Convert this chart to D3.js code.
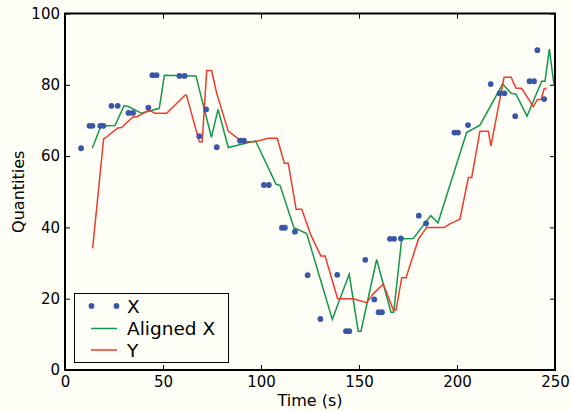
<!DOCTYPE html>
<html><head><meta charset="utf-8">
<script src="https://cdn.jsdelivr.net/npm/d3@7"></script>
<style>
html,body{margin:0;padding:0;background:#fffff7;}
svg{display:block;font-family:"DejaVu Sans",sans-serif;}
</style></head>
<body><svg id="c" width="571" height="411"></svg>
<script>
const xTimes = [8.2, 12.5, 14, 18, 19.6, 23.7, 26.9, 32.4, 34.7, 42.5, 44.6, 46.7, 58.4, 61, 68.5, 72, 77.4, 89.3, 91.3, 101.5, 104, 110.7, 112.2, 117.3, 123.8, 130.3, 138.9, 143.4, 145, 153.2, 157.8, 160, 161.7, 165.8, 167.9, 171.4, 180.5, 184.2, 198.7, 200.5, 205.6, 217.2, 221.7, 224.2, 229.7, 237, 239.3, 241, 244.5];
const xValues = [62.2, 68.5, 68.5, 68.5, 68.5, 74.1, 74.1, 72.1, 72.1, 73.6, 82.7, 82.7, 82.5, 82.5, 65.6, 73.1, 62.5, 64.3, 64.3, 51.9, 51.9, 39.9, 39.9, 38.8, 26.6, 14.3, 26.7, 10.9, 10.9, 30.9, 19.8, 16.2, 16.2, 36.8, 36.8, 36.9, 43.3, 41.1, 66.6, 66.6, 68.7, 80.2, 77.6, 77.6, 71.2, 81, 81, 89.7, 76];

const alignedTimes = [13.9, 18.4, 25.5, 30.1, 32.3, 39.1, 48.1, 50.7, 66.8, 74.7, 78.1, 83.3, 97.2, 107.7, 109.7, 116.8, 123.3, 136.4, 145, 149.6, 151, 159, 166.3, 167.7, 171.8, 177.7, 186.6, 190.3, 204.9, 211.7, 223.3, 227.6, 230.1, 235.7, 243.2, 244.9, 247.1, 249.5];
const alignedValues = [62.2, 68.5, 68.6, 74.1, 73.9, 72, 73.4, 82.7, 82.5, 65.3, 73.1, 62.4, 64.3, 52.1, 51.8, 39.9, 38.3, 14.2, 26.9, 10.9, 10.9, 31, 16.2, 16.2, 36.8, 36.9, 43.3, 41.3, 66.6, 68.7, 80.2, 77.6, 77.4, 71.2, 81, 81, 90, 80];

const yTimes = [14.1, 19.7, 21.5, 26.9, 28.9, 34.5, 36.9, 43, 45.9, 51.9, 61.2, 62, 68.5, 70, 72.3, 74.8, 77.4, 83.3, 89.3, 91, 96.9, 103.7, 108.3, 111.9, 113.9, 117.9, 120.8, 125.4, 130.5, 132.7, 139.1, 147.1, 153.9, 157.5, 162.4, 167.5, 168.9, 171.8, 174, 180.3, 184.5, 193.4, 196.4, 201.5, 205.8, 207.5, 211.7, 216, 217.3, 224, 227.6, 230.1, 233, 238.9, 241, 242.9, 244.5, 245.7];
const yValues = [34.1, 64.8, 65.5, 67.9, 68, 70.9, 71.1, 72.9, 72, 72, 77.1, 77.1, 64, 64, 84, 84, 77.6, 67, 64.5, 64, 64, 65, 65, 58, 58, 45.1, 45.1, 37.9, 32, 32, 20, 20, 18.9, 21.5, 24.1, 16.8, 16.8, 25.9, 25.9, 36.7, 40, 40, 41, 42.3, 54, 54, 67, 67, 62.8, 82.1, 82.1, 79, 79, 73.9, 75.9, 75.9, 78.9, 79];

const xTicks = [0, 50, 100, 150, 200, 250];
const yTicks = [0, 20, 40, 60, 80, 100];
const legendLabels = ["X", "Aligned X", "Y"];

const colBlue = "#3a56a8", colGreen = "#12984a", colRed = "#f03a2a";

const W = 571, H = 411;
const m = {l: 65, t: 13.5, r: 16, b: 41};
const svg = d3.select("#c");
svg.append("rect").attr("width", W).attr("height", H).attr("fill", "#fffff7");

const x = d3.scaleLinear().domain([0, 250]).range([m.l, W - m.r]);
const y = d3.scaleLinear().domain([0, 100]).range([H - m.b, m.t]);

const g = svg.append("g");
const line = d3.line().x(d => x(d[0])).y(d => y(d[1]));

g.append("path").datum(d3.zip(alignedTimes, alignedValues))
  .attr("d", line).attr("fill", "none").attr("stroke", colGreen).attr("stroke-width", 1.5);
g.append("path").datum(d3.zip(yTimes, yValues))
  .attr("d", line).attr("fill", "none").attr("stroke", colRed).attr("stroke-width", 1.5);
g.selectAll("circle.x").data(d3.zip(xTimes, xValues)).enter().append("circle")
  .attr("cx", d => x(d[0])).attr("cy", d => y(d[1])).attr("r", 2.9).attr("fill", colBlue);

// axes
const fs = 15;
const ab = svg.append("g").attr("transform", `translate(0,${H - m.b})`)
  .call(d3.axisBottom(x).tickValues(xTicks).tickSizeInner(-5).tickSizeOuter(0).tickPadding(6));
const al = svg.append("g").attr("transform", `translate(${m.l},0)`)
  .call(d3.axisLeft(y).tickValues(yTicks).tickSizeInner(-5).tickSizeOuter(0).tickPadding(5));
const at = svg.append("g").attr("transform", `translate(0,${m.t})`)
  .call(d3.axisTop(x).tickValues(xTicks).tickSizeInner(-5).tickSizeOuter(0).tickFormat(""));
const ar = svg.append("g").attr("transform", `translate(${W - m.r},0)`)
  .call(d3.axisRight(y).tickValues(yTicks).tickSizeInner(-5).tickSizeOuter(0).tickFormat(""));
[ab, al, at, ar].forEach(a => {
  a.select(".domain").remove();
  a.selectAll("line").attr("stroke", "#000").attr("stroke-width", 1);
  a.selectAll("text").attr("font-size", fs).attr("font-family", "DejaVu Sans").attr("fill", "#000");
});
svg.append("rect").attr("x", m.l).attr("y", m.t).attr("width", W - m.r - m.l).attr("height", H - m.b - m.t)
  .attr("fill", "none").attr("stroke", "#000").attr("stroke-width", 2);

svg.append("text").attr("x", (m.l + W - m.r) / 2).attr("y", 406).attr("text-anchor", "middle")
  .attr("font-size", 16).text("Time (s)");
svg.append("text").attr("transform", `translate(24,${(m.t + H - m.b) / 2}) rotate(-90)`)
  .attr("text-anchor", "middle").attr("font-size", 16).text("Quantities");

// legend
const lg = svg.append("g");
lg.append("rect").attr("x", 74.5).attr("y", 293.5).attr("width", 154).attr("height", 69)
  .attr("fill", "#fffff7").attr("stroke", "#000").attr("stroke-width", 1);
const rowY = [306, 328.5, 350];
lg.append("circle").attr("cx", 91.5).attr("cy", rowY[0]).attr("r", 2.9).attr("fill", colBlue);
lg.append("circle").attr("cx", 116.5).attr("cy", rowY[0]).attr("r", 2.9).attr("fill", colBlue);
lg.append("line").attr("x1", 91).attr("x2", 117).attr("y1", rowY[1]).attr("y2", rowY[1]).attr("stroke", colGreen).attr("stroke-width", 1.5);
lg.append("line").attr("x1", 91).attr("x2", 117).attr("y1", rowY[2]).attr("y2", rowY[2]).attr("stroke", colRed).attr("stroke-width", 1.5);
legendLabels.forEach((t, i) => {
  lg.append("text").attr("x", 127).attr("y", rowY[i]).attr("dy", "0.36em").attr("font-size", 18.5).text(t);
});
</script></body></html>
